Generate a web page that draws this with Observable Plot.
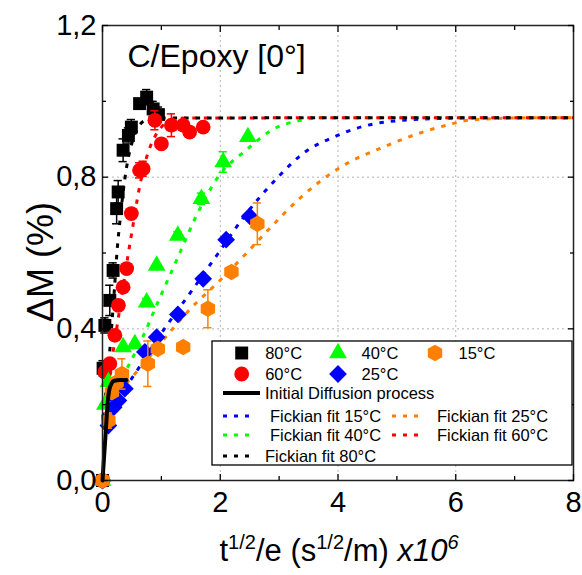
<!DOCTYPE html>
<html><head><meta charset="utf-8">
<script src="https://cdn.jsdelivr.net/npm/d3@7"></script>
<script src="https://cdn.jsdelivr.net/npm/@observablehq/plot@0.6"></script>
<style>body{margin:0;background:#fff} svg{display:block}</style>
</head><body><div id="chart"></div>
<script>
// ---- measured data (x: t^1/2/e x10^6, y: ΔM %) ----
const x80 = [0, 0.01, 0.04, 0.124, 0.18, 0.24, 0.266, 0.35, 0.44, 0.49, 0.63, 0.75, 0.86, 0.95];
const y80 = [0, 0.296, 0.409, 0.475, 0.554, 0.717, 0.761, 0.871, 0.91, 0.932, 0.994, 1.011, 0.98, 0.965];
const e80 = [0, 0.02, 0.02, 0.04, 0.02, 0.04, 0.03, 0.03, 0.02, 0.02, 0, 0.02, 0.02, 0.02];

const x60 = [0, 0.04, 0.124, 0.21, 0.27, 0.35, 0.41, 0.49, 0.63, 0.69, 0.89, 1.0, 1.17, 1.37, 1.48, 1.71];
const y60 = [0, 0.286, 0.308, 0.383, 0.462, 0.51, 0.559, 0.704, 0.818, 0.822, 0.95, 0.888, 0.937, 0.937, 0.919, 0.932];
const e60 = [0, 0, 0, 0, 0, 0, 0, 0, 0.02, 0.02, 0.025, 0, 0.03, 0, 0, 0];

const x40 = [0, 0.04, 0.1, 0.35, 0.55, 0.75, 0.92, 1.28, 1.68, 2.05, 2.47];
const y40 = [0, 0.2, 0.26, 0.352, 0.36, 0.47, 0.567, 0.646, 0.743, 0.84, 0.906];
const e40 = [0, 0, 0, 0, 0, 0.01, 0, 0.01, 0.015, 0.027, 0];

const x25 = [0, 0.1, 0.19, 0.27, 0.38, 0.72, 0.92, 1.28, 1.71, 2.1, 2.5];
const y25 = [0, 0.145, 0.193, 0.211, 0.242, 0.339, 0.378, 0.438, 0.532, 0.635, 0.697];
const e25 = [0, 0.01, 0.01, 0.01, 0.01, 0, 0, 0, 0, 0, 0];

const x15 = [0, 0.1, 0.16, 0.24, 0.33, 0.77, 0.94, 1.37, 1.79, 2.19, 2.63];
const y15 = [0, 0.158, 0.233, 0.259, 0.281, 0.308, 0.347, 0.352, 0.453, 0.55, 0.677];
const e15 = [0, 0.02, 0, 0, 0.04, 0.06, 0, 0, 0.05, 0, 0.055];

// Fickian fits — legend labels as in original
const fit15X = [0, 0.5, 0.94, 1.56, 1.96, 2.41, 2.98, 3.37, 3.99, 4.78, 5.75, 6.5, 8];
const fit15Y = [0.17, 0.27, 0.375, 0.51, 0.598, 0.697, 0.8, 0.858, 0.91, 0.945, 0.955, 0.957, 0.957];
const fit25X = [0, 0.6, 1.17, 1.47, 2.05, 2.49, 2.81, 3.37, 4.05, 4.78, 5.52, 5.92, 6.2, 6.98, 7.6, 8];
const fit25Y = [0.19, 0.29, 0.396, 0.449, 0.536, 0.607, 0.66, 0.747, 0.827, 0.88, 0.923, 0.94, 0.95, 0.956, 0.957, 0.957];
const fit40X = [0, 0.3, 0.66, 0.94, 1.27, 1.6, 1.96, 2.47, 2.86, 3.37, 3.76, 8];
const fit40Y = [0.16, 0.26, 0.37, 0.47, 0.585, 0.7, 0.8, 0.875, 0.923, 0.95, 0.957, 0.957];
const fit60X = [0, 0.2, 0.35, 0.44, 0.52, 0.6, 0.75, 0.9, 1.0, 1.2, 1.4, 8];
const fit60Y = [0.16, 0.36, 0.51, 0.6, 0.675, 0.75, 0.853, 0.91, 0.932, 0.951, 0.956, 0.957];
const fit80X = [0, 0.1, 0.2, 0.25, 0.3, 0.35, 0.41, 0.5, 0.6, 0.7, 0.85, 8];
const fit80Y = [0.16, 0.3, 0.5, 0.61, 0.69, 0.76, 0.827, 0.89, 0.93, 0.948, 0.956, 0.957];

const initX = [0, 0.03, 0.06, 0.085, 0.11, 0.15, 0.2, 0.3, 0.41];
const initY = [0, 0.07, 0.14, 0.2, 0.235, 0.255, 0.263, 0.265, 0.265];

const xTicks = [0, 2, 4, 6, 8];
const xMinor = [1, 3, 5, 7];
const yTicks = [0, 0.4, 0.8, 1.2];
const yMinor = [0.2, 0.6, 1.0];
const xGrid = [2, 4, 6];
const yGrid = [0.4, 0.8];

const seriesLabels = ["80°C", "60°C", "40°C", "25°C", "15°C"];
const fitLabels = ["Fickian fit 15°C", "Fickian fit 25°C", "Fickian fit 40°C", "Fickian fit 60°C", "Fickian fit 80°C"];
const initLabel = "Initial Diffusion process";
const titleText = "C/Epoxy [0°]";

// ---- styles ----
const C = {k: "#000000", r: "#ff0000", g: "#00ff00", b: "#0000ff", o: "#ff8000"};
const series = [
  {label: seriesLabels[0], x: x80, y: y80, e: e80, color: C.k, symbol: "square", r: 7.3},
  {label: seriesLabels[1], x: x60, y: y60, e: e60, color: C.r, symbol: "circle", r: 7.4},
  {label: seriesLabels[2], x: x40, y: y40, e: e40, color: C.g, symbol: "triangle", r: 6.6},
  {label: seriesLabels[3], x: x25, y: y25, e: e25, color: C.b, symbol: "diamond2", r: 8.0},
  {label: seriesLabels[4], x: x15, y: y15, e: e15, color: C.o, symbol: "hexagon", r: 7.2}
];
const fits = [
  {label: fitLabels[0], x: fit15X, y: fit15Y, color: C.b},
  {label: fitLabels[1], x: fit25X, y: fit25Y, color: C.o},
  {label: fitLabels[2], x: fit40X, y: fit40Y, color: C.g},
  {label: fitLabels[3], x: fit60X, y: fit60Y, color: C.r},
  {label: fitLabels[4], x: fit80X, y: fit80Y, color: C.k}
];
const toRows = s => s.x.map((v, i) => ({x: v, y: s.y[i], e: s.e ? s.e[i] : 0}));
const dash = "4.5,7";
const capW = 0.07;
const font = "'Liberation Sans', Arial, sans-serif";
const fmt = d => d.toFixed(1).replace(".", ",");

const marks = [
  Plot.gridX(xGrid, {stroke: "#b4b4b4", strokeOpacity: 1, strokeDasharray: "2,3"}),
  Plot.gridY(yGrid, {stroke: "#b4b4b4", strokeOpacity: 1, strokeDasharray: "2,3"}),
  ...fits.map(f => Plot.line(toRows(f), {x: "x", y: "y", stroke: f.color, strokeWidth: 3, strokeDasharray: dash, strokeLinecap: "butt", curve: "monotone-x"})),
];
for (const s of series) {
  const rows = toRows(s).filter(d => d.e > 0);
  marks.push(
    Plot.ruleX(rows, {x: "x", y1: d => d.y - d.e, y2: d => d.y + d.e, stroke: s.color, strokeWidth: 1.5}),
    Plot.ruleY(rows, {y: d => d.y + d.e, x1: d => d.x - capW, x2: d => d.x + capW, stroke: s.color, strokeWidth: 1.5}),
    Plot.ruleY(rows, {y: d => d.y - d.e, x1: d => d.x - capW, x2: d => d.x + capW, stroke: s.color, strokeWidth: 1.5}),
    Plot.dot(toRows(s), {x: "x", y: "y", fill: s.color, stroke: "none", symbol: s.symbol, r: s.r})
  );
}
marks.push(
  Plot.line(initX.map((v, i) => ({x: v, y: initY[i]})), {x: "x", y: "y", stroke: "#000", strokeWidth: 4, curve: "monotone-x"}),
  Plot.frame({stroke: "#222", strokeWidth: 1.5}),
  // inward ticks on all four sides
  Plot.axisX({ticks: xTicks, anchor: "bottom", tickSize: -6, tickFormat: () => "", label: null, strokeWidth: 1.3}),
  Plot.axisX({ticks: xMinor, anchor: "bottom", tickSize: -4, tickFormat: () => "", label: null, strokeWidth: 1.3}),
  Plot.axisX({ticks: xTicks, anchor: "top", tickSize: -6, tickFormat: () => "", label: null, strokeWidth: 1.3}),
  Plot.axisX({ticks: xMinor, anchor: "top", tickSize: -4, tickFormat: () => "", label: null, strokeWidth: 1.3}),
  Plot.axisY({ticks: yTicks, anchor: "left", tickSize: -6, tickFormat: () => "", label: null, strokeWidth: 1.3}),
  Plot.axisY({ticks: yMinor, anchor: "left", tickSize: -4, tickFormat: () => "", label: null, strokeWidth: 1.3}),
  Plot.axisY({ticks: yTicks, anchor: "right", tickSize: -6, tickFormat: () => "", label: null, strokeWidth: 1.3}),
  Plot.axisY({ticks: yMinor, anchor: "right", tickSize: -4, tickFormat: () => "", label: null, strokeWidth: 1.3}),
  // tick labels
  Plot.axisX({ticks: xTicks, anchor: "bottom", tickSize: 0, tickPadding: 11, fontSize: 29, label: null}),
  Plot.axisY({ticks: yTicks, anchor: "left", tickSize: 0, tickPadding: 6, fontSize: 29, tickFormat: fmt, label: null}),
  Plot.text([titleText], {frameAnchor: "top-left", dx: 25, dy: 19, lineAnchor: "top", textAnchor: "start", fontSize: 32, fill: "#000"})
);

const svgEl = Plot.plot({
  width: 582, height: 575,
  marginLeft: 102, marginRight: 9, marginTop: 25, marginBottom: 95,
  x: {domain: [0, 8]},
  y: {domain: [0, 1.2]},
  style: {fontFamily: font, color: "#000", background: "#fff", overflow: "visible"},
  marks
});
document.getElementById("chart").appendChild(svgEl);

// ---- axis titles and legend (text + symbols) ----
const svg = d3.select(svgEl);
// y title
svg.append("text")
  .attr("transform", "translate(53,262) rotate(-90)")
  .attr("text-anchor", "middle")
  .attr("font-family", font).attr("font-size", 36).attr("fill", "#000")
  .text("ΔM (%)");
// x title with superscripts
const xt = svg.append("text")
  .attr("x", 339).attr("y", 561)
  .attr("text-anchor", "middle")
  .attr("font-family", font).attr("font-size", 31).attr("fill", "#000");
xt.append("tspan").text("t");
xt.append("tspan").attr("dy", -12).attr("font-size", 20).text("1/2");
xt.append("tspan").attr("dy", 12).text("/e (s");
xt.append("tspan").attr("dy", -12).attr("font-size", 20).text("1/2");
xt.append("tspan").attr("dy", 12).text("/m) ");
xt.append("tspan").attr("font-style", "italic").text("x10");
xt.append("tspan").attr("dy", -12).attr("font-size", 20).attr("font-style", "italic").text("6");

// legend
const lg = svg.append("g").attr("font-family", font).attr("font-size", 16.5).attr("fill", "#000").attr("text-anchor", "start");
lg.append("rect").attr("x", 212).attr("y", 341).attr("width", 360).attr("height", 124)
  .attr("fill", "#fff").attr("stroke", "#000").attr("stroke-width", 1.3);
const hexagon = {draw(ctx, size) { const rx = Math.sqrt(size / Math.PI), ry = rx * 2 / Math.sqrt(3), hy = ry / 2;
  ctx.moveTo(0, ry); ctx.lineTo(rx, hy); ctx.lineTo(rx, -hy); ctx.lineTo(0, -ry); ctx.lineTo(-rx, -hy); ctx.lineTo(-rx, hy); ctx.closePath(); }};
const symMap = {square: d3.symbolSquare, circle: d3.symbolCircle, triangle: d3.symbolTriangle, diamond2: d3.symbolDiamond2, hexagon};
const legPos = [[241.7, 353], [241.7, 374], [338, 353], [338, 374], [435, 353]];
series.forEach((s, i) => {
  const [px, py] = legPos[i];
  lg.append("path").attr("transform", `translate(${px},${py})`)
    .attr("d", d3.symbol(symMap[s.symbol], Math.PI * s.r * s.r)()).attr("fill", s.color);
  lg.append("text").attr("x", px + 23.5).attr("y", py).attr("dy", "0.36em").text(s.label);
});
lg.append("line").attr("x1", 223).attr("x2", 260).attr("y1", 393).attr("y2", 393).attr("stroke", "#000").attr("stroke-width", 4);
lg.append("text").attr("x", 265).attr("y", 393).attr("dy", "0.36em").text(initLabel);
const fitPos = [[223, 253, 270, 416], [392, 418, 437, 416], [223, 253, 270, 435], [392, 418, 437, 435], [223, 253, 265, 456]];
fits.forEach((f, i) => {
  const [a, b, tx, py] = fitPos[i];
  lg.append("line").attr("x1", a).attr("x2", b).attr("y1", py).attr("y2", py)
    .attr("stroke", f.color).attr("stroke-width", 3).attr("stroke-dasharray", "4,7");
  lg.append("text").attr("x", tx).attr("y", py).attr("dy", "0.36em").text(f.label);
});
</script></body></html>
